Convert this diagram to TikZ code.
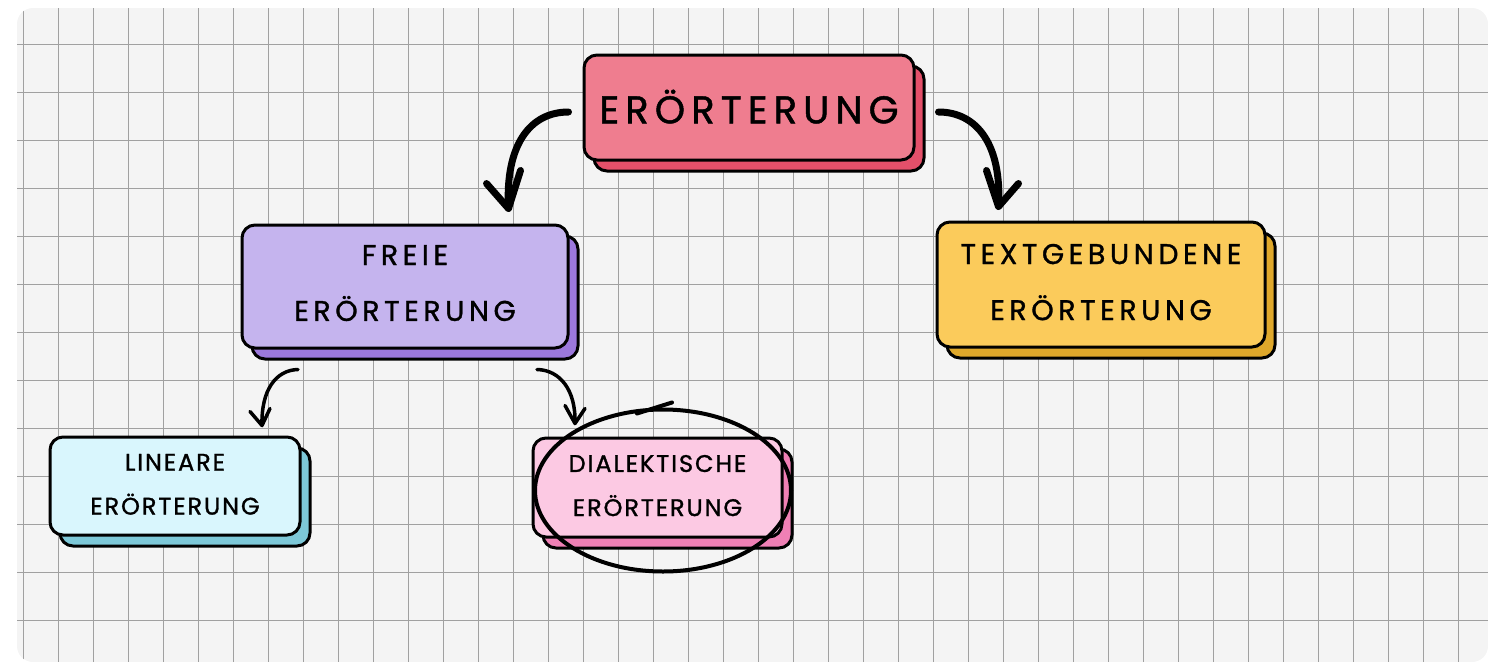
\documentclass[tikz,border=0pt]{standalone}
\usepackage{fontspec}
\setmainfont{Poppins}
\newfontfamily\fTitle[LetterSpace=16,FakeBold=1.2]{Poppins}
\newfontfamily\fMid[LetterSpace=16,FakeBold=1.2]{Poppins}
\newfontfamily\fSmall[LetterSpace=8,FakeBold=1.2]{Poppins}
\usetikzlibrary{shadows}
\definecolor{bg}{HTML}{F4F4F4}
\definecolor{gridc}{HTML}{A0A0A0}
\definecolor{redF}{HTML}{EF7D8F}
\definecolor{redS}{HTML}{E4506A}
\definecolor{purF}{HTML}{C5B4EE}
\definecolor{purS}{HTML}{9C78DC}
\definecolor{yelF}{HTML}{FBCB5B}
\definecolor{yelS}{HTML}{DFA82B}
\definecolor{cyaF}{HTML}{D9F6FD}
\definecolor{cyaS}{HTML}{7DC8D8}
\definecolor{pinF}{HTML}{FCC9E3}
\definecolor{pinS}{HTML}{EF80B5}
\tikzset{
  card/.style={draw=black, line width=3pt, rounded corners=13pt, align=center,
    inner sep=0pt, text=black,
    copy shadow={shadow xshift=10pt, shadow yshift=-11pt, fill=#1, draw=black,
      line width=3pt, opacity=1}},
  bigarr/.style={line width=7pt, line cap=round, line join=round},
  smallarr/.style={line width=3.5pt, line cap=round, line join=round},
  loop/.style={line width=4pt, line cap=round},
  gridline/.style={gridc, line width=1pt}
}
\begin{document}
\begin{tikzpicture}[x=1pt, y=-1pt]
\useasboundingbox (0,0) rectangle (1505,672);
% background paper
\begin{scope}
  \clip[rounded corners=16pt] (17,8) rectangle (1488,662);
  \fill[bg] (17,8) rectangle (1488,662);
  \foreach \x in {23,58,...,1488} \draw[gridline] (\x,8) -- (\x,662);
  \foreach \y in {44,92,...,662} \draw[gridline] (17,\y) -- (1488,\y);
\end{scope}

% cards
\node[card=redS, fill=redF, minimum width=330pt, minimum height=105pt,
  font=\fTitle\fontsize{38.5}{46}\selectfont] (t) at (749,107.5) {\raisebox{2pt}{ERÖRTERUNG}};
\node[card=purS, fill=purF, minimum width=326pt, minimum height=123pt,
  font=\fMid\fontsize{28.5}{56}\selectfont] (f) at (405,286.5) {\raisebox{7pt}{\shortstack{FREIE\\[28pt]ERÖRTERUNG}}};
\node[card=yelS, fill=yelF, minimum width=328pt, minimum height=125pt,
  font=\fMid\fontsize{28.5}{56}\selectfont] (g) at (1101,284.5) {\raisebox{5pt}{\shortstack{TEXTGEBUNDENE\\[28pt]ERÖRTERUNG}}};
\node[card=cyaS, fill=cyaF, minimum width=250pt, minimum height=98pt,
  font=\fSmall\fontsize{24}{43}\selectfont] (l) at (175,486) {\raisebox{3.5pt}{\shortstack{LINEARE\\[20pt]ERÖRTERUNG}}};
\node[card=pinS, fill=pinF, minimum width=249pt, minimum height=99pt,
  font=\fSmall\fontsize{24}{44}\selectfont] (d) at (657.5,487.5) {\raisebox{4pt}{\shortstack{DIALEKTISCHE\\[20pt]ERÖRTERUNG}}};

% arrow anchor coordinates
\coordinate (a1s) at ([shift={(-14,4.5)}]t.west);
\coordinate (a1t) at ([shift={(-61,-15)}]f.north east);
\coordinate (a2s) at ([shift={(23,4.5)}]t.east);
\coordinate (a2t) at ([shift={(63,-14)}]g.north west);
\coordinate (a3s) at ([shift={(-107,20)}]f.south);
\coordinate (a3t) at ([shift={(87,-10)}]l.north);
\coordinate (a4s) at ([shift={(132,20)}]f.south);
\coordinate (a4t) at ([shift={(-82.5,-13)}]d.north);

% big arrows
\draw[bigarr] (a1s) .. controls (530,112) and (505,145) .. (a1t);
\draw[bigarr] ([shift={(-22,-25)}]a1t) -- (a1t) -- ([shift={(12,-38)}]a1t);
\draw[bigarr] (a2s) .. controls (977,112) and (1002,145) .. (a2t);
\draw[bigarr] ([shift={(-12,-36)}]a2t) -- (a2t) -- ([shift={(20,-23)}]a2t);
% small arrows
\draw[smallarr] (a3s) .. controls (276,370) and (261,390) .. (a3t);
\draw[smallarr] ([shift={(-12,-14)}]a3t) -- (a3t) -- ([shift={(8,-17)}]a3t);
\draw[smallarr] (a4s) .. controls (560,370) and (576,390) .. (a4t);
\draw[smallarr] ([shift={(-10,-18)}]a4t) -- (a4t) -- ([shift={(10,-15)}]a4t);

% hand-drawn highlight loop
\coordinate (c) at ([shift={(5.5,3)}]d.center);
\draw[loop] (c) ellipse [x radius=128pt, y radius=81pt];
\draw[loop] ([shift={(-26,-77)}]c) -- ([shift={(9,-88)}]c);
\end{tikzpicture}
\end{document}
